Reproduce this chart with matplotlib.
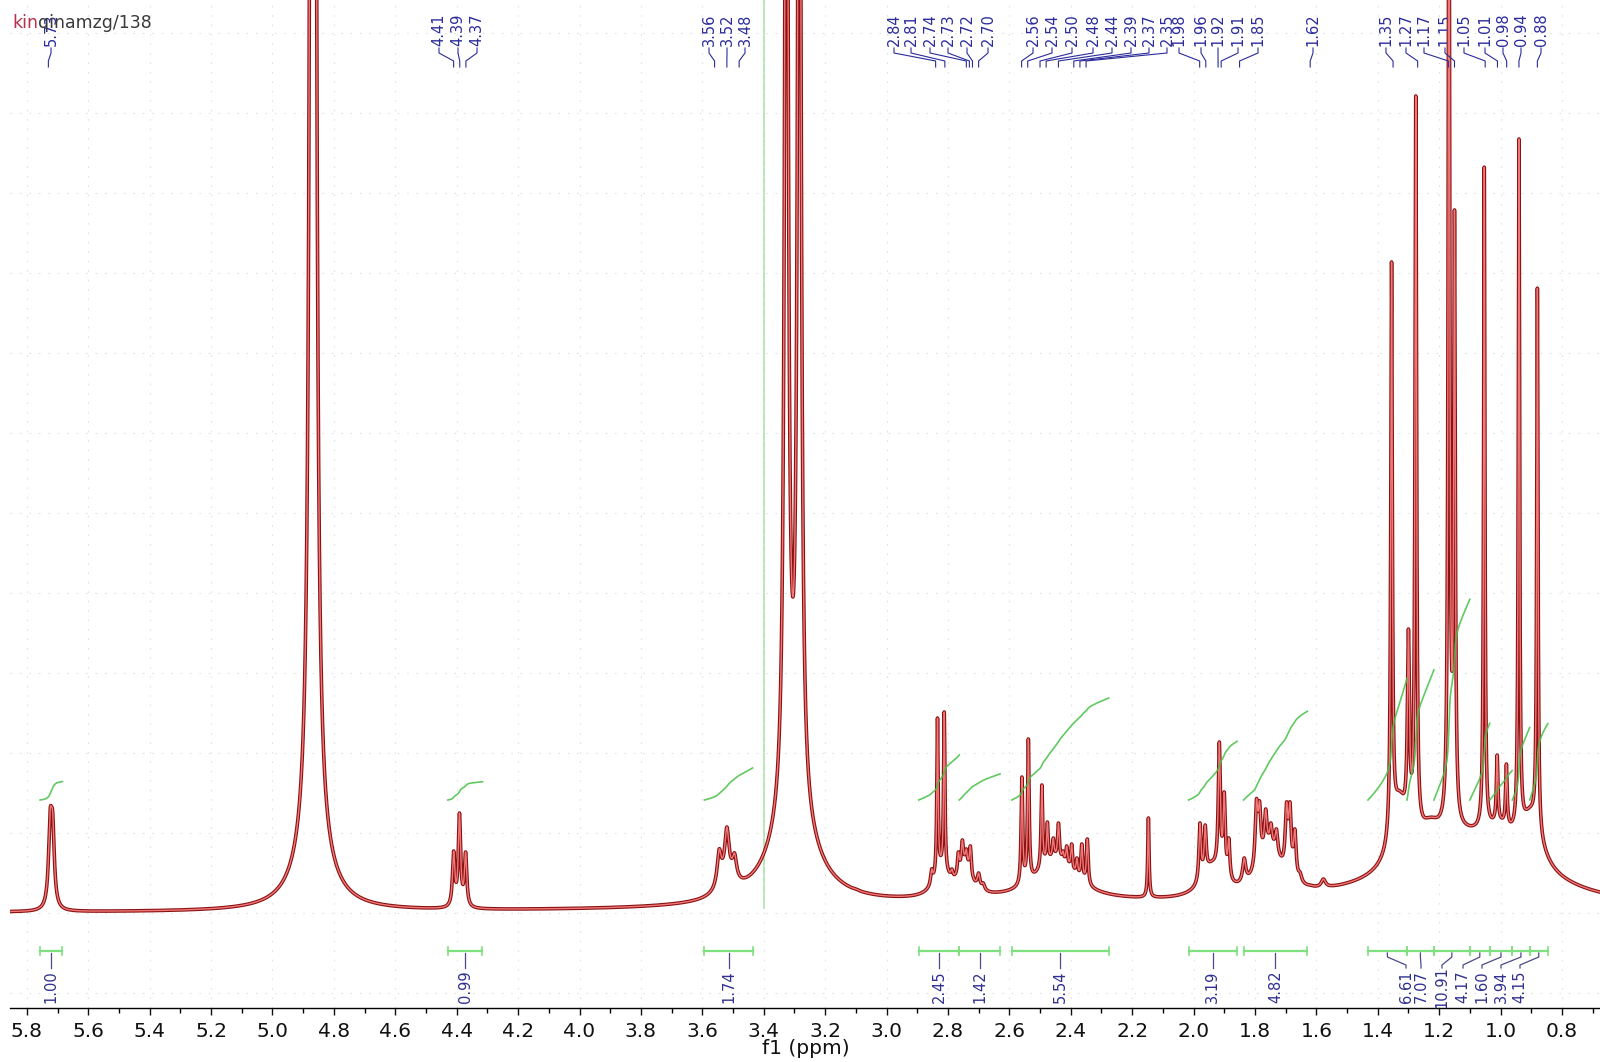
import numpy as np
import matplotlib
matplotlib.use("Agg")
import matplotlib.pyplot as plt
from matplotlib import font_manager


def first_font(names):
    for name in names:
        try:
            font_manager.findfont(name, fallback_to_default=False)
            return name
        except ValueError:
            continue
    return "DejaVu Sans"


NARROW = first_font(["Liberation Sans Narrow", "DejaVu Sans Condensed", "DejaVu Sans"])

# resolved lines: shift (ppm), apex height, half width (ppm)
line_ppm = [5.724, 5.716, 4.410, 4.391, 4.371, 3.545, 3.520, 3.495, 3.140, 3.100,
            2.853, 2.834, 2.812, 2.787, 2.766, 2.753, 2.740, 2.727, 2.700, 2.685,
            2.559, 2.538, 2.494, 2.476, 2.457, 2.440, 2.425, 2.413, 2.397, 2.380,
            2.364, 2.346, 2.147, 1.979, 1.962, 1.916, 1.900, 1.885, 1.835, 1.795,
            1.785, 1.765, 1.748, 1.730, 1.697, 1.686, 1.670, 1.653, 1.620, 1.577,
            1.355, 1.300, 1.276, 1.168, 1.150, 1.053, 1.011, 0.981, 0.940, 0.880]
line_height = [104, 101, 62, 100, 61, 64, 86, 60, 26, 24,
               44, 195, 201, 44, 61, 73, 64, 67, 40, 30,
               136, 174, 128, 91, 75, 90, 62, 67, 69, 55,
               69, 74, 95, 90, 88, 171, 121, 75, 55, 114,
               112, 104, 90, 84, 111, 111, 84, 41, 28, 34,
               651, 284, 817, 1150, 703, 746, 158, 149, 774, 625]
line_hw = [0.0065, 0.0065, 0.0045, 0.0045, 0.0045, 0.008, 0.008, 0.008, 0.01, 0.01,
           0.004, 0.0025, 0.0025, 0.004, 0.0035, 0.0035, 0.0035, 0.0035, 0.005, 0.006,
           0.003, 0.003, 0.003, 0.003, 0.0035, 0.0035, 0.0035, 0.0035, 0.0035, 0.0035,
           0.0035, 0.0035, 0.0025, 0.004, 0.004, 0.004, 0.004, 0.004, 0.006, 0.005,
           0.005, 0.005, 0.005, 0.005, 0.005, 0.005, 0.005, 0.006, 0.008, 0.008,
           0.003, 0.004, 0.003, 0.003, 0.003, 0.0025, 0.003, 0.003, 0.0025, 0.0025]

# solvent / water lines and broad envelopes with fixed amplitude
hump_ppm = [4.868, 4.868, 3.326, 3.284, 3.305, 3.520, 2.820, 2.745, 2.450, 1.940,
            1.750, 1.330, 1.230, 1.120, 1.000, 0.900, 2.600]
hump_amp = [10000, 60, 1420, 1420, 95, 18, 25, 30, 40, 30,
            45, 60, 20, 70, 20, 50, 8]
hump_hw = [0.0037, 0.06, 0.006, 0.006, 0.08, 0.03, 0.03, 0.025, 0.08, 0.04,
           0.05, 0.03, 0.04, 0.25, 0.05, 0.04, 0.8]

# integrals: region start, region end (ppm), value
int_hi = [5.757, 4.429, 3.593, 2.895, 2.763, 2.592, 2.016, 1.837,
          1.432, 1.305, 1.217, 1.100, 1.035, 0.962, 0.905]
int_lo = [5.684, 4.316, 3.436, 2.763, 2.630, 2.276, 1.858, 1.629,
          1.305, 1.217, 1.100, 1.035, 0.962, 0.905, 0.846]
int_val = [1.00, 0.99, 1.74, 2.45, 1.42, 5.54, 3.19, 4.82,
           6.61, 7.07, 10.91, 4.17, 1.60, 3.94, 4.15]

peak_labels = [5.73, 4.41, 4.39, 4.37, 3.56, 3.52, 3.48,
               2.84, 2.81, 2.74, 2.73, 2.72, 2.70,
               2.56, 2.54, 2.50, 2.48, 2.44, 2.39, 2.37, 2.35,
               1.98, 1.96, 1.92, 1.91, 1.85, 1.62,
               1.35, 1.27, 1.17, 1.15, 1.05, 1.01, 0.98, 0.94, 0.88]

# layout of the rotated labels (figure pixels)
peak_label_px = [51, 439, 458, 477, 709, 727, 745,
                 894, 911, 930, 948, 967, 988,
                 1033, 1052, 1072, 1093, 1112, 1131, 1149, 1167,
                 1179, 1201, 1218, 1238, 1258, 1313,
                 1386, 1406, 1424, 1445, 1464, 1485, 1503, 1521, 1541]
int_label_px = [None] * 8 + [1406, 1421, 1442, 1463, 1482, 1501, 1520]

XMAX, XMIN = 5.855, 0.676
PX_PER_PPM = 1590 / (XMAX - XMIN)


def px2ppm(px):
    return XMAX - (px - 10) / PX_PER_PPM


def lorentz(x, x0, hw):
    return 1.0 / (1.0 + ((x - x0) / hw) ** 2)


lp = np.array(line_ppm)
lh = np.array(line_height, dtype=float)
lw_ = np.array(line_hw)
hp, ha, hh = np.array(hump_ppm), np.array(hump_amp, dtype=float), np.array(hump_hw)

# amplitudes so that the summed spectrum reaches each apex height
base_at = (ha[None, :] * lorentz(lp[:, None], hp[None, :], hh[None, :])).sum(axis=1)
M = lorentz(lp[:, None], lp[None, :], lw_[None, :])
amp = np.clip(lh - base_at, 0, None)
for _ in range(300):
    for i in range(len(amp)):
        r = lh[i] - base_at[i] - M[i] @ amp + M[i, i] * amp[i]
        amp[i] = max(r, 0.0)

x = np.linspace(XMAX, XMIN, 40000)
spec = (amp[None, :] * lorentz(x[:, None], lp[None, :], lw_[None, :])).sum(axis=1)
spec += (ha[None, :] * lorentz(x[:, None], hp[None, :], hh[None, :])).sum(axis=1)

fig = plt.figure(figsize=(16, 10.62), dpi=100)
ax = fig.add_axes([10 / 1600, 54 / 1062, 1590 / 1600, 1008 / 1062])
ax.set_xlim(XMAX, XMIN)
ax.set_ylim(-95, 913)

# faint dotted grid
major = np.arange(5.8, 0.75, -0.2)
ax.set_xticks(major)
ax.set_xticks(np.arange(5.8, 0.65, -0.1), minor=True)
ax.set_yticks(np.arange(-80, 900, 80))
ax.grid(True, which="major", color="#e2e2e2", linestyle=(0, (1.5, 7)), linewidth=0.8)
ax.tick_params(axis="y", left=False, labelleft=False)
ax.tick_params(axis="x", which="major", direction="out", length=5, width=1,
               labelsize=14.5, pad=5, colors="#111111")
ax.tick_params(axis="x", which="minor", direction="out", length=3.5, width=1)
ax.set_xticklabels([f"{t:.1f}" for t in major], fontfamily=NARROW)
for side in ["top", "left", "right"]:
    ax.spines[side].set_visible(False)
ax.spines["bottom"].set_linewidth(1)

# reference line
ax.plot([3.40, 3.40], [5, 913], color="#a8e4a8", lw=1.2, zorder=1)

# spectrum
ax.plot(x, spec, color="#8a1212", lw=2.6, zorder=3)
ax.plot(x, spec, color="#f07878", lw=1.0, zorder=4)

# integral curves and bars
bar_y = -38
for hi, lo, val in zip(int_hi, int_lo, int_val):
    m = (x <= hi) & (x >= lo)
    xs, ys = x[m], spec[m]
    cum = np.concatenate([[0], np.cumsum((ys[1:] + ys[:-1]) / 2 * np.abs(np.diff(xs)))])
    ax.plot(xs, 113 + val * 18.4 * cum / cum[-1], color="#46c046", lw=1.2, alpha=0.85, zorder=5)
    ax.plot([hi, lo], [bar_y, bar_y], color="#7ee07e", lw=1.6, zorder=5)
    for e in (hi, lo):
        ax.plot([e, e], [bar_y - 4, bar_y + 4], color="#7ee07e", lw=1.2, zorder=5)

for hi, lo, val, lpx in zip(int_hi, int_lo, int_val, int_label_px):
    c = (hi + lo) / 2
    tx = c if lpx is None else px2ppm(lpx)
    ax.plot([c, c, tx, tx], [bar_y - 2, bar_y - 6, bar_y - 14, bar_y - 17],
            color="#4a4a8a", lw=0.9, zorder=5)
    ax.text(tx, -74, f"{val:.2f}", rotation=90, ha="center", va="center",
            fontsize=10.5, color="#303090", fontfamily=NARROW)

# peak picking labels
for v, tpx in zip(peak_labels, peak_label_px):
    tx = px2ppm(tpx)
    ax.plot([tx, tx, v, v], [865, 860, 852, 846], color="#2b2b9b", lw=0.8, zorder=6)
    ax.text(tx, 867, f"{v:.2f}", rotation=90, ha="center", va="bottom",
            fontsize=10.5, color="#2b2b9b", fontfamily=NARROW)

fig.text(806 / 1600, 1 - 1049 / 1062, "f1 (ppm)", ha="center", va="center",
         fontsize=14.5, color="#111111", fontfamily=NARROW)

# experiment name, first part in red
head = fig.text(12 / 1600, 1 - 23 / 1062, "kin", ha="left", va="center",
                fontsize=12.5, color="#b8304c")
fig.canvas.draw()
x_end = head.get_window_extent().x1
fig.text(x_end / 1600, 1 - 23 / 1062, "qinamzg/138", ha="left", va="center",
         fontsize=12.5, color="#3a3a3a")

fig.savefig("out.png", dpi=100)
